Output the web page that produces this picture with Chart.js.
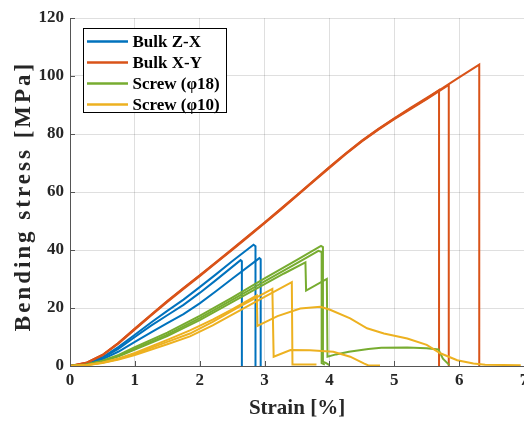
<!DOCTYPE html>
<html><head><meta charset="utf-8">
<script src="https://cdn.jsdelivr.net/npm/chart.js@4/dist/chart.umd.min.js"></script>
<style>
html,body{margin:0;padding:0;overflow:hidden;background:#fff;width:524px;height:421px}
#wrap{position:absolute;left:0;top:0;width:560px;height:421px}
</style>
</head><body><div id="wrap"><canvas id="c" width="560" height="421"></canvas></div>
<script>
const seriesNames = ['Bulk Z-X', 'Bulk X-Y', 'Screw (φ18)', 'Screw (φ10)'];
const seriesColors = ['#0072BD', '#D95319', '#77AC30', '#EDB120'];
const xTicks = [0, 1, 2, 3, 4, 5, 6, 7];
const yTicks = [0, 20, 40, 60, 80, 100, 120];
const xTitle = 'Strain [%]';
const yTitle = 'Bending stress [MPa]';

// Bulk Z-X
const zx1Strain = [0,0.25,0.5,0.75,1,1.25,1.5,1.75,2,2.25,2.5,2.83,2.86,2.86];
const zx1Stress = [0,0.8,3,6.6,10.8,15,19,22.9,27.2,31.6,36.1,41.8,41.3,0];
const zx2Strain = [0,0.25,0.5,0.75,1,1.25,1.5,1.75,2,2.25,2.63,2.65,2.65];
const zx2Stress = [0,0.7,2.7,6,10,13.9,17.5,21.1,25.2,29.6,36.5,36.1,0];
const zx3Strain = [0,0.25,0.5,0.75,1,1.25,1.5,1.75,2,2.25,2.5,2.92,2.94,2.94];
const zx3Stress = [0,0.6,2.3,5,8.3,11.6,14.8,17.9,21.6,25.8,30.1,37.2,36.8,0];

// Bulk X-Y
const xy1Strain = [0,0.25,0.5,0.75,1,1.25,1.5,1.75,2,2.25,2.5,2.75,3,3.25,3.5,3.75,4,4.25,4.5,4.75,5,5.25,5.5,5.69,5.69];
const xy1Stress = [0,1.1,3.8,8,12.8,17.6,22.3,26.8,31.2,35.7,40.2,44.8,49.4,54.1,58.9,63.7,68.5,73.2,77.6,81.6,85.3,88.8,92.2,95.1,0];
const xy2Strain = [0,0.25,0.5,0.75,1,1.25,1.5,1.75,2,2.25,2.5,2.75,3,3.25,3.5,3.75,4,4.25,4.5,4.75,5,5.25,5.5,5.84,5.84];
const xy2Stress = [0,1,3.7,7.8,12.6,17.4,22.1,26.6,31,35.5,40,44.6,49.2,53.9,58.7,63.5,68.3,73,77.4,81.4,85.1,88.6,92,96.9,0];
const xy3Strain = [0,0.25,0.5,0.75,1,1.25,1.5,1.75,2,2.25,2.5,2.75,3,3.25,3.5,3.75,4,4.25,4.5,4.75,5,5.25,5.5,5.75,6,6.31,6.31];
const xy3Stress = [0,1.1,3.8,8,12.9,17.7,22.4,26.9,31.3,35.8,40.3,44.9,49.5,54.2,59,63.8,68.6,73.3,77.7,81.7,85.4,89,92.5,95.9,99.5,103.9,0];

// Screw (φ18)
const s18aStrain = [0,0.25,0.5,0.75,1,1.5,2,2.5,3,3.5,3.87,3.9,3.9,3.95,4.0];
const s18aStress = [0,0.5,1.8,3.8,6.5,11.5,17.3,23.6,30.2,36.6,41.4,41,1.5,1,0.3];
const s18bStrain = [0,0.25,0.5,0.75,1,1.5,2,2.5,3,3.5,3.83,3.88,3.88,3.93];
const s18bStress = [0,0.45,1.6,3.5,6,10.8,16.5,22.8,29.2,35.5,39.7,39.3,1,0.5];
const s18cStrain = [0,0.25,0.5,0.75,1,1.5,2,2.5,3,3.3,3.63,3.64,3.96,3.97,4.1,4.3,4.6,4.8,5.2,5.5,5.68,5.75,5.85];
const s18cStress = [0,0.4,1.5,3.3,5.7,10.3,15.8,22,28.2,31.9,35.7,26,30,3.2,4,4.9,5.9,6.3,6.4,6.1,5.7,2.5,0.3];

// Screw (φ10)
const s10aStrain = [0,0.25,0.5,0.75,1,1.5,1.85,2.2,2.5,2.88,2.89,3.2,3.55,3.86,4.01,4.32,4.58,4.84,5.2,5.5,5.71,5.97,6.22,6.4,6.95];
const s10aStress = [0,0.3,1.2,2.6,4.5,9,12.3,16,19.5,24.3,13.8,17.2,19.8,20.4,19.4,16.4,13,11.2,9.5,7.3,4.4,2,0.9,0.4,0.3];
const s10bStrain = [0,0.25,0.5,0.75,1,1.5,1.85,2.2,2.6,3.12,3.14,3.4,3.7,4.06,4.32,4.53,4.6,4.78];
const s10bStress = [0,0.3,1.1,2.4,4.2,8.3,11.2,15.2,20.3,26.6,3.2,5.5,5.4,4.9,3.2,0.9,0.2,0.2];
const s10cStrain = [0,0.25,0.5,0.75,1,1.5,1.85,2.2,2.6,3,3.42,3.43,3.8];
const s10cStress = [0,0.25,1,2.2,3.8,7.5,10.2,14,18.9,23.8,28.9,0.5,0.5];

const curves = [
  [0, zx1Strain, zx1Stress], [0, zx2Strain, zx2Stress], [0, zx3Strain, zx3Stress],
  [1, xy1Strain, xy1Stress], [1, xy2Strain, xy2Stress], [1, xy3Strain, xy3Stress],
  [2, s18aStrain, s18aStress], [2, s18bStrain, s18bStress], [2, s18cStrain, s18cStress],
  [3, s10aStrain, s10aStress], [3, s10bStrain, s10bStress], [3, s10cStrain, s10cStress]
];

const datasets = curves.map(([g, xs, ys]) => ({
  label: seriesNames[g],
  data: xs.map((x, i) => ({ x: x, y: ys[i] })),
  borderColor: seriesColors[g],
  backgroundColor: seriesColors[g],
  borderWidth: 2,
  pointRadius: 0,
  tension: 0,
  fill: false,
  order: 4 - g
}));

const FONT = '"Liberation Serif", "Times New Roman", serif';

const innerTicks = {
  id: 'innerTicks',
  afterDatasetsDraw(chart) {
    const ctx = chart.ctx, xs = chart.scales.x, ys = chart.scales.y, a = chart.chartArea;
    ctx.save();
    ctx.strokeStyle = '#555';
    ctx.lineWidth = 1;
    ctx.beginPath();
    xTicks.forEach(v => { const px = Math.round(xs.getPixelForValue(v)) + 0.5; ctx.moveTo(px, a.bottom); ctx.lineTo(px, a.bottom - 5); });
    yTicks.forEach(v => { const py = Math.round(ys.getPixelForValue(v)) + 0.5; ctx.moveTo(a.left, py); ctx.lineTo(a.left + 5, py); });
    ctx.stroke();
    ctx.restore();
  }
};

const yAxisTitle = {
  id: 'yAxisTitle',
  afterDraw(chart) {
    const ctx = chart.ctx, a = chart.chartArea;
    ctx.save();
    ctx.translate(30, (a.top + a.bottom) / 2 + 4);
    ctx.rotate(-Math.PI / 2);
    ctx.font = 'bold 23px ' + FONT;
    if ('letterSpacing' in ctx) ctx.letterSpacing = '3px';
    ctx.fillStyle = '#262626';
    ctx.textAlign = 'center';
    ctx.textBaseline = 'alphabetic';
    ctx.fillText(yTitle, 0, 0);
    ctx.restore();
  }
};

const boxLegend = {
  id: 'boxLegend',
  afterDraw(chart) {
    const ctx = chart.ctx;
    const x0 = 83.5, y0 = 28.5, w = 143, h = 84;
    ctx.save();
    ctx.fillStyle = '#fff';
    ctx.fillRect(x0, y0, w, h);
    ctx.strokeStyle = '#000';
    ctx.lineWidth = 1;
    ctx.strokeRect(x0, y0, w, h);
    ctx.font = 'bold 17px ' + FONT;
    ctx.textBaseline = 'middle';
    ctx.textAlign = 'left';
    seriesNames.forEach((name, i) => {
      const cy = 41.5 + i * 21;
      ctx.strokeStyle = seriesColors[i];
      ctx.lineWidth = 2.5;
      ctx.beginPath();
      ctx.moveTo(87, cy);
      ctx.lineTo(128, cy);
      ctx.stroke();
      ctx.fillStyle = '#000';
      ctx.fillText(name, 132.5, cy + 1);
    });
    ctx.restore();
  }
};

new Chart(document.getElementById('c'), {
  type: 'line',
  data: { datasets: datasets },
  options: {
    responsive: false,
    animation: false,
    devicePixelRatio: 1,
    layout: { padding: { left: 0, right: 36, top: 18, bottom: 0 } },
    plugins: { legend: { display: false }, tooltip: { enabled: false } },
    scales: {
      x: {
        type: 'linear', min: 0, max: 7,
        afterBuildTicks: s => { s.ticks = xTicks.map(v => ({ value: v })); },
        afterFit: s => { s.height = 55; },
        ticks: { color: '#262626', font: { family: FONT, size: 17, weight: 'bold' }, padding: 4, maxRotation: 0 },
        grid: { color: 'rgba(38,38,38,0.15)', drawTicks: false },
        border: { color: '#555', width: 1 },
        title: { display: true, text: xTitle, color: '#262626', font: { family: FONT, size: 21, weight: 'bold' }, padding: { top: 0, bottom: 0 } }
      },
      y: {
        type: 'linear', min: 0, max: 120,
        afterBuildTicks: s => { s.ticks = yTicks.map(v => ({ value: v })); },
        afterFit: s => { s.width = 70; },
        ticks: { color: '#262626', font: { family: FONT, size: 17, weight: 'bold' }, padding: 6 },
        grid: { color: 'rgba(38,38,38,0.15)', drawTicks: false },
        border: { color: '#555', width: 1 },
        title: { display: false, text: yTitle }
      }
    }
  },
  plugins: [innerTicks, yAxisTitle, boxLegend]
});
</script>
</body></html>
